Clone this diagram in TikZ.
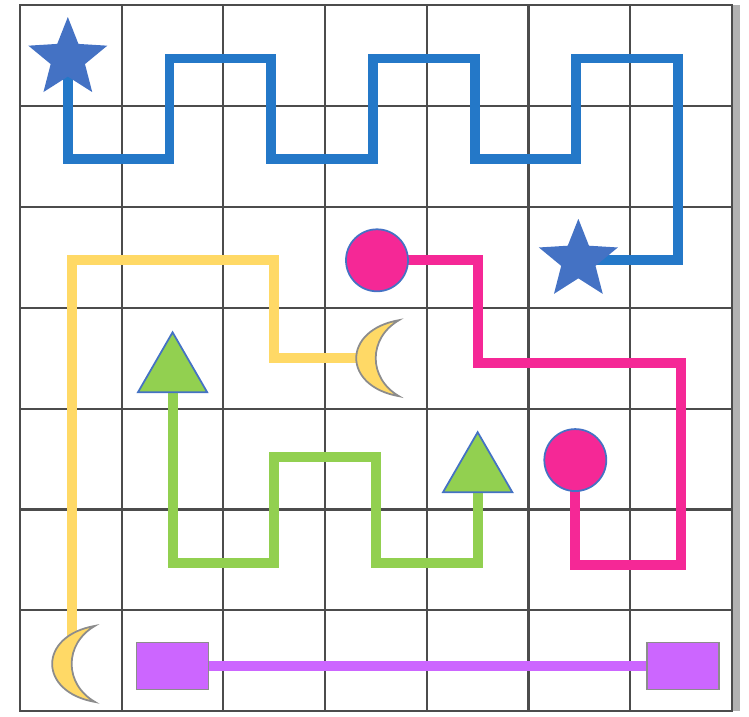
\documentclass[tikz,border=0pt]{standalone}
\usepackage{tikz}
\usetikzlibrary{shapes.geometric, backgrounds}
\definecolor{pathblue}{RGB}{36,120,200}
\definecolor{starblue}{RGB}{68,114,196}
\definecolor{dotpink}{RGB}{245,40,150}
\definecolor{leafgreen}{RGB}{146,208,80}
\definecolor{sunyellow}{RGB}{255,217,102}
\definecolor{boxviolet}{RGB}{204,102,255}

\begin{document}
\begin{tikzpicture}[x=1.017cm, y=1.009cm,
gl/.style={draw=black!70, line width=0.6pt},
pth/.style={line width=2.8pt},
st/.style={star, star points=5, star point ratio=2.3, fill=starblue, inner sep=0pt, minimum size=0.83cm},
ci/.style={circle, draw=starblue, line width=0.5pt, fill=dotpink, inner sep=0pt, minimum size=0.62cm},
tr/.style={regular polygon, regular polygon sides=3, draw=starblue, line width=0.5pt, fill=leafgreen, inner sep=0pt, minimum size=0.8cm},
sq/.style={rectangle, draw=black!45, line width=0.5pt, fill=boxviolet, inner sep=0pt, minimum width=0.72cm, minimum height=0.47cm},
moon/.pic={\path[draw=black!45, line width=0.5pt, fill=sunyellow] (0.23cm,0.38cm) .. controls (-0.34cm,0.28cm) and (-0.34cm,-0.28cm) .. (0.23cm,-0.38cm) .. controls (-0.08cm,-0.2cm) and (-0.08cm,0.2cm) .. cycle;}
]
\useasboundingbox (-0.197,-0.05) rectangle (7.168,7.05);

% end points
\node[st] (s1) at (0.47,6.47) {};
\node[st] (s2) at (5.49,4.47) {};
\node[ci] (c1) at (3.51,4.47) {};
\node[ci] (c2) at (5.46,2.49) {};
\node[tr] (t1) at (1.50,3.36) {};
\node[tr] (t2) at (4.50,2.37) {};
\node[sq] (q1) at (1.50,0.45) {};
\node[sq] (q2) at (6.52,0.45) {};
\coordinate (m1) at (0.51,0.47);
\coordinate (m2) at (3.50,3.50);
\pic at (m1) {moon};
\pic at (m2) {moon};

\begin{scope}[on background layer]
% board
\fill[black!30] (7,0) rectangle (7.08,7);
\draw[gl, xstep=1.017cm, ystep=1.009cm] (0,0) grid (7,7);
\draw[gl] (0,0) rectangle (7,7);
% paths
\draw[pth, pathblue] (s1.center) -- ++(0,-1) -- ++(1,0) -- ++(0,1) -- ++(1,0) -- ++(0,-1) -- ++(1,0) -- ++(0,1) -- ++(1,0) -- ++(0,-1) -- ++(1,0) -- ++(0,1) -- ++(1,0) |- (s2.center);
\draw[pth, sunyellow] ([yshift=0.28cm]m1) |- (2.5,4.47) |- ([xshift=-0.1cm]m2);
\draw[pth, dotpink] (c1.center) -| (4.5,3.45) -| (6.5,1.45) -| (c2.center);
\draw[pth, leafgreen] (t1.center) |- (2.5,1.47) |- (3.5,2.52) |- (4.5,1.47) -- (t2.center);
\draw[pth, boxviolet] (q1) -- (q2);
\end{scope}
\end{tikzpicture}
\end{document}
